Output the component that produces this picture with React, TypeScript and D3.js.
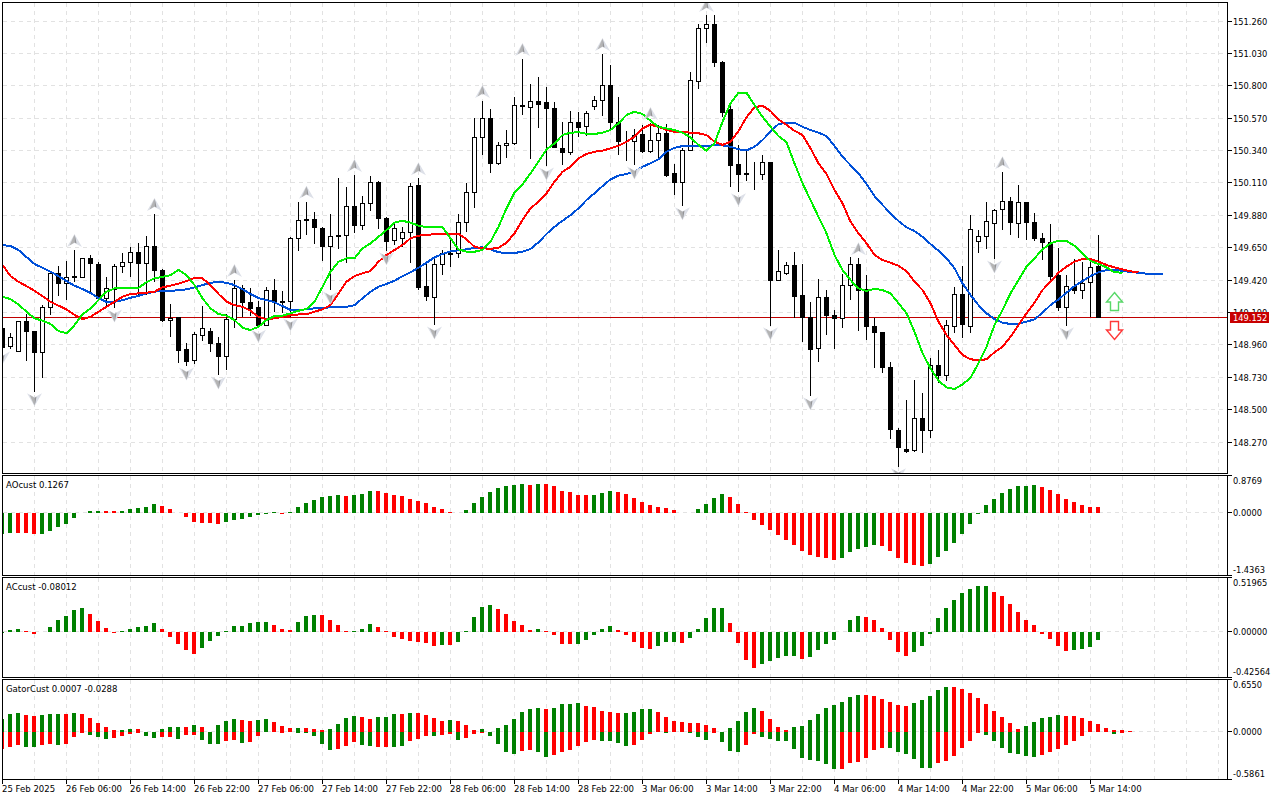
import * as d3 from "d3";
import React from "react";

// hourly USDJPY style chart
const opens = [149.08,148.947,148.912,149.125,149.059,148.905,149.227,149.469,149.395,149.44,
149.437,149.575,149.532,149.288,149.357,149.515,149.544,149.618,149.535,149.662,
149.492,149.135,149.153,148.929,148.848,149.026,149.057,148.967,148.876,149.142,
149.362,149.263,149.227,149.099,149.348,149.272,149.267,149.717,149.852,149.852,
149.788,149.657,149.736,149.738,149.944,149.809,149.966,150.117,149.861,149.7,
149.717,149.76,150.095,149.376,149.298,149.532,149.611,149.611,149.831,150.044,
150.434,150.569,150.247,150.375,150.392,150.661,150.644,150.69,150.685,150.64,
150.356,150.325,150.541,150.509,150.654,150.697,150.803,150.538,150.408,150.403,
150.451,150.332,150.413,150.463,150.174,150.112,150.339,150.829,151.208,151.236,
150.969,150.633,150.242,150.179,150.179,150.171,150.257,149.416,149.466,149.525,
149.314,149.156,148.936,149.298,149.172,149.149,149.383,149.532,149.355,149.092,
149.052,148.801,148.356,148.219,148.209,148.439,148.351,148.817,148.741,149.092,
149.319,149.092,149.696,149.728,149.824,149.92,149.98,149.824,149.973,149.831,
149.717,149.686,149.456,149.227,149.373,149.345,149.402,149.518];
const highs = [149.094,149.045,149.13,149.18,149.062,149.243,149.48,149.52,149.556,149.634,
149.577,149.598,149.549,149.442,149.535,149.613,149.655,149.686,149.733,149.89,
149.499,149.251,149.16,148.974,149.054,149.236,149.078,149.018,149.177,149.421,
149.383,149.362,149.272,149.373,149.428,149.345,149.728,149.973,149.977,149.902,
149.799,149.887,150.143,150.083,150.166,150.017,150.159,150.122,149.866,149.826,
149.799,150.108,150.143,149.54,149.586,149.634,149.705,149.887,150.108,150.569,
150.692,150.635,150.399,150.486,150.718,150.99,150.81,150.86,150.789,150.683,
150.545,150.621,150.616,150.621,150.727,151.026,150.947,150.718,150.479,150.491,
150.521,150.536,150.521,150.529,150.245,150.356,150.896,151.239,151.302,151.302,
150.976,150.668,150.379,150.339,150.261,150.309,150.26,149.634,149.549,149.622,
149.532,149.267,149.426,149.35,149.208,149.464,149.584,149.575,149.456,149.149,
149.055,148.839,148.368,148.569,148.711,148.617,148.865,148.924,149.137,149.369,
149.52,149.882,149.776,149.977,149.923,150.186,150.012,150.095,149.976,149.895,
149.753,149.816,149.646,149.456,149.568,149.547,149.563,149.74];
const lows = [148.924,148.931,148.91,148.848,148.628,148.725,149.172,149.307,149.279,149.409,
149.435,149.329,149.279,149.229,149.222,149.473,149.444,149.302,149.314,149.409,
149.125,149.018,148.834,148.81,148.825,148.99,148.912,148.746,148.782,149.08,
149.16,149.168,149.078,149.094,149.196,149.185,149.16,149.629,149.74,149.677,
149.558,149.35,149.641,149.54,149.753,149.776,149.913,149.785,149.629,149.669,
149.653,149.544,149.35,149.274,149.101,149.456,149.511,149.579,149.76,149.934,
150.309,150.183,150.237,150.285,150.379,150.592,150.28,150.502,150.23,150.36,
150.237,150.309,150.438,150.443,150.628,150.585,150.491,150.309,150.268,150.237,
150.325,150.325,150.273,150.154,150.024,149.949,150.339,150.777,151.106,150.935,
150.58,150.083,150.048,150.126,150.06,150.131,149.097,149.414,149.456,149.149,
148.983,148.6,148.841,149.03,148.931,149.078,149.279,149.061,148.995,148.798,
148.763,148.294,148.095,148.191,148.202,148.195,148.301,148.692,148.704,149.045,
149.011,149.045,149.615,149.641,149.57,149.776,149.74,149.717,149.705,149.698,
149.563,149.421,149.201,149.097,149.322,149.284,149.156,149.149];
const closes = [148.945,149.011,149.125,149.054,148.905,149.227,149.469,149.395,149.44,149.445,
149.575,149.537,149.291,149.362,149.52,149.547,149.618,149.537,149.66,149.487,
149.132,149.149,148.924,148.841,149.035,149.078,148.969,148.876,149.142,149.362,
149.26,149.22,149.101,149.345,149.26,149.26,149.717,149.845,149.842,149.792,
149.657,149.728,149.728,149.944,149.807,149.966,150.115,149.856,149.693,149.785,
149.76,150.088,149.366,149.302,149.532,149.611,149.601,149.831,150.044,150.434,
150.569,150.247,150.375,150.392,150.661,150.651,150.69,150.666,150.637,150.36,
150.325,150.541,150.502,150.605,150.697,150.803,150.538,150.403,150.403,150.448,
150.337,150.413,150.463,150.166,150.112,150.339,150.839,151.208,151.236,150.964,
150.609,150.233,150.169,150.171,150.175,150.254,149.416,149.48,149.525,149.302,
149.156,148.931,149.298,149.168,149.149,149.383,149.532,149.345,149.089,149.05,
148.798,148.363,148.23,148.207,148.439,148.351,148.817,148.746,149.097,149.319,
149.104,149.781,149.731,149.838,149.916,149.98,149.828,149.973,149.828,149.717,
149.686,149.449,149.224,149.373,149.345,149.398,149.511,149.152];

const jaw = [149.67,149.662,149.634,149.584,149.535,149.508,149.48,149.449,149.414,149.381,
149.357,149.329,149.293,149.265,149.267,149.277,149.295,149.309,149.326,149.338,
149.345,149.345,149.348,149.355,149.369,149.385,149.402,149.407,149.402,149.385,
149.355,149.322,149.293,149.279,149.263,149.236,149.208,149.208,149.213,149.22,
149.224,149.227,149.229,149.231,149.243,149.291,149.338,149.373,149.393,149.416,
149.449,149.476,149.508,149.544,149.582,149.606,149.625,149.632,149.639,149.65,
149.653,149.639,149.618,149.613,149.613,149.622,149.641,149.689,149.748,149.799,
149.842,149.882,149.93,149.989,150.037,150.088,150.136,150.162,150.174,150.19,
150.225,150.25,150.278,150.332,150.36,150.372,150.375,150.375,150.375,150.377,
150.377,150.367,150.349,150.342,150.367,150.415,150.474,150.529,150.538,150.538,
150.509,150.486,150.467,150.443,150.372,150.296,150.237,150.179,150.103,150.017,
149.954,149.895,149.84,149.795,149.769,149.728,149.677,149.629,149.575,149.504,
149.398,149.315,149.243,149.185,149.144,149.118,149.109,149.111,149.125,149.142,
149.189,149.243,149.284,149.331,149.378,149.414,149.449,149.476,149.492,149.492,
149.487,149.478,149.473,149.466,149.464,149.464];
const teeth = [149.528,149.449,149.409,149.378,149.345,149.307,149.267,149.239,149.213,149.173,
149.144,149.16,149.196,149.231,149.267,149.302,149.322,149.326,149.331,149.338,
149.369,149.381,149.395,149.414,149.437,149.433,149.385,149.322,149.267,149.243,
149.231,149.203,149.16,149.142,149.149,149.16,149.17,149.177,149.177,149.196,
149.213,149.243,149.326,149.409,149.449,149.469,149.485,149.551,149.599,149.634,
149.67,149.717,149.736,149.743,149.745,149.745,149.745,149.75,149.71,149.657,
149.646,149.643,149.65,149.686,149.753,149.847,149.93,149.977,150.037,150.119,
150.19,150.225,150.285,150.316,150.332,150.339,150.356,150.375,150.403,150.438,
150.498,150.524,150.509,150.486,150.474,150.474,150.467,150.463,150.451,150.403,
150.38,150.403,150.479,150.576,150.647,150.659,150.621,150.562,150.522,150.481,
150.451,150.356,150.25,150.174,150.06,149.966,149.835,149.753,149.682,149.599,
149.563,149.544,149.522,149.485,149.409,149.35,149.256,149.125,149.031,148.96,
148.889,148.858,148.853,148.858,148.908,148.947,149.018,149.101,149.185,149.26,
149.35,149.409,149.473,149.516,149.551,149.57,149.57,149.551,149.528,149.511,
149.497,149.483,149.476];
const lips = [149.302,149.286,149.248,149.196,149.149,149.132,149.109,149.059,149.043,149.101,
149.177,149.22,149.279,149.338,149.362,149.364,149.366,149.366,149.405,149.433,
149.444,149.456,149.494,149.456,149.385,149.291,149.22,149.18,149.168,149.137,
149.082,149.066,149.089,149.137,149.165,149.168,149.185,149.203,149.215,149.267,
149.373,149.48,149.551,149.575,149.575,149.646,149.681,149.728,149.776,149.828,
149.842,149.828,149.807,149.797,149.797,149.797,149.717,149.639,149.622,149.622,
149.634,149.693,149.799,149.93,150.044,150.1,150.179,150.261,150.349,150.392,
150.451,150.467,150.47,150.46,150.458,150.467,150.486,150.534,150.593,150.616,
150.6,150.552,150.509,150.498,150.486,150.467,150.434,150.38,150.339,150.392,
150.545,150.675,150.751,150.751,150.664,150.58,150.509,150.443,150.399,150.25,
150.108,149.989,149.87,149.753,149.599,149.492,149.421,149.362,149.343,149.359,
149.35,149.326,149.256,149.185,149.054,148.901,148.794,148.706,148.659,148.647,
148.68,148.727,148.83,148.947,149.101,149.208,149.326,149.421,149.516,149.575,
149.639,149.681,149.7,149.698,149.665,149.611,149.556,149.535,149.511,149.476,
149.473];

const aoValues = [-.486,-.463,-.463,-.463,-.486,-.486,-.416,-.324,-.254,-.116,
.008,.046,.046,.046,.046,.046,.093,.116,.139,.208,
.162,.093,.008,-.093,-.208,-.231,-.231,-.254,-.208,-.162,
-.139,-.093,-.046,-.015,.023,-.015,.023,.139,.231,.301,
.37,.393,.416,.393,.416,.439,.509,.509,.463,.416,
.393,.324,.278,.231,.139,.093,.023,.008,.069,.231,
.37,.486,.578,.625,.648,.671,.648,.671,.671,.625,
.509,.486,.416,.416,.416,.463,.509,.486,.439,.347,
.254,.185,.139,.116,.069,.008,.008,.093,.208,.347,
.439,.37,.208,.023,-.162,-.278,-.393,-.509,-.625,-.74,
-.879,-.971,-1.018,-1.041,-1.087,-1.041,-.902,-.833,-.786,-.74,
-.763,-.879,-1.041,-1.157,-1.203,-1.226,-1.18,-1.018,-.879,-.694,
-.486,-.254,-.031,.185,.324,.463,.555,.625,.625,.648,
.601,.532,.439,.324,.254,.185,.139,.1267];
const aoTrend = "GGRRRGGGGG" + "GGGRRGGGGG" + "RRRRRRRRGG" + "GGGGGRGGGG" + "GGGRGGGRRR" + "RRRRRRRRGG" + "GGGGGGRGRR" + "RRRRGGGRRR" + "RRRRRRGGGG" + "GRRRRRRRRR" + "RRRRRGGGGG" + "RRRRRRGGGG" + "GGGGGGGGGG" + "RRRRRRRR";

const acValues = [-.013,.019,.028,.009,-.019,-.003,.047,.113,.151,.208,
.227,.17,.104,.038,-.009,.009,.028,.047,.057,.085,
.028,-.047,-.113,-.17,-.208,-.151,-.085,-.038,.009,.057,
.057,.085,.095,.095,.066,.028,.019,.095,.151,.161,
.161,.113,.066,.009,.009,.028,.076,.047,.009,-.047,
-.066,-.085,-.095,-.104,-.132,-.123,-.123,-.095,.009,.142,
.236,.255,.217,.17,.104,.066,.019,.028,.009,-.028,
-.113,-.113,-.113,-.076,-.028,.028,.057,.019,-.028,-.095,
-.151,-.161,-.132,-.095,-.095,-.104,-.057,.028,.132,.227,
.227,.085,-.104,-.265,-.34,-.302,-.274,-.246,-.227,-.227,
-.255,-.236,-.17,-.113,-.076,.003,.113,.151,.142,.113,
.038,-.076,-.189,-.227,-.189,-.132,-.019,.132,.227,.302,
.369,.406,.435,.435,.378,.34,.265,.189,.113,.066,
-.019,-.066,-.132,-.18,-.17,-.161,-.142,-.08];
const acTrend = "GGGRRGGGGG" + "GRRRRGGGGG" + "RRRRRGGGGG" + "GGGGRRRGGG" + "RRRRGGGRRR" + "RRRRRGRGGG" + "GGRRRRRGRR" + "RRGGGGGRRR" + "RRGGGRGGGG" + "GRRRRGGGGG" + "RGGGGGGGRR" + "RRRRGGGGGG" + "GGGGRRRRRR" + "RRRRGGGG";

const gatorUp = [.153,.215,.228,.203,.19,.203,.215,.215,.215,.228,
.215,.165,.103,.054,.017,.017,.029,.029,0,0,
.029,.054,.054,.054,.079,.054,0,.079,.128,.153,
.141,.128,.141,.153,.116,.066,.041,.041,.041,.029,
.017,.029,.091,.165,.19,.178,.153,.178,.178,.215,
.215,.228,.228,.203,.165,.128,.141,.128,.079,.017,
.029,0,.041,.079,.153,.24,.277,.29,.277,.29,
.339,.339,.352,.314,.302,.252,.24,.228,.228,.24,
.277,.277,.24,.178,.128,.116,.103,.103,.079,.041,
0,.041,.128,.24,.29,.252,.153,.054,.017,.054,
.066,.141,.215,.29,.327,.364,.426,.451,.451,.439,
.401,.364,.327,.314,.352,.389,.439,.513,.55,.55,
.525,.476,.414,.339,.252,.178,.103,.029,.066,.116,
.165,.178,.203,.19,.19,.165,.128,.091,.041,.017,
.017,.004,.001];
const gatorDown = [-.219,-.186,-.17,-.186,-.194,-.17,-.157,-.17,-.157,-.062,
-.021,-.046,-.07,-.095,-.083,-.058,-.033,-.021,-.058,-.083,
-.07,-.07,-.095,-.046,-.046,-.108,-.157,-.157,-.12,-.108,
-.145,-.132,-.058,-.008,-.001,-.012,-.008,-.021,-.021,-.058,
-.157,-.232,-.219,-.182,-.132,-.17,-.182,-.194,-.194,-.194,
-.182,-.12,-.095,-.058,-.058,-.046,-.033,-.108,-.083,-.033,
-.012,-.058,-.157,-.256,-.281,-.244,-.232,-.256,-.319,-.294,
-.256,-.232,-.182,-.132,-.108,-.12,-.12,-.145,-.182,-.17,
-.108,-.033,-.004,-.012,-.004,-.008,-.021,-.07,-.108,-.012,
-.132,-.244,-.256,-.17,-.033,-.07,-.095,-.12,-.12,-.219,
-.331,-.356,-.368,-.405,-.467,-.467,-.393,-.381,-.331,-.232,
-.207,-.207,-.256,-.281,-.343,-.455,-.455,-.393,-.368,-.306,
-.207,-.12,-.021,-.046,-.12,-.207,-.269,-.281,-.306,-.319,
-.294,-.256,-.219,-.17,-.12,-.058,-.008,-.008,0,-.033,
-.021,0,0];
const gatorUpTrend = "GGGRRGGGRG" + "RRRRRGGRGG" + "GGGRGRGGGG" + "RRGGRRRGRR" + "RGGGGRRGGG" + "RGRRRRGRRR" + "GGGGGGGGRG" + "GGGRRRRRGG" + "GGRRRRRRRR" + "GGGGGRRRRG" + "GGGGGGGGRR" + "RRRRGGGGGR" + "RRRRRRRRGG" + "GGGRRRRRRRRRR";
const gatorDownTrend = "RRRGGRRGRR" + "RGGGRRRRGG" + "RRGRRGGGRR" + "GRRRRRRGGG" + "GGRRRGGRRG" + "GRRRGRRGRR" + "RGGGGRRGGR" + "RRRRRGGGGR" + "RRRGRGGGGR" + "GGGRRGGGGG" + "GGGGGRRRRR" + "RGGGGGGRRR" + "RRRGGGGGGG" + "RRRRRRRGRGRRR";

// bars carrying a fractal
const fractalsUp = [9, 19, 29, 38, 44, 52, 60, 65, 75, 81, 88, 107, 125];
const fractalsDown = [0, 4, 14, 23, 27, 32, 36, 41, 48, 54, 68, 79, 85, 92, 96, 101, 112, 124, 133];

const priceTicks = [151.26, 151.03, 150.8, 150.57, 150.34, 150.11, 149.88, 149.65, 149.42, 149.19, 148.96, 148.73, 148.5, 148.27];
const timeLabels = ["25 Feb 2025", "26 Feb 06:00", "26 Feb 14:00", "26 Feb 22:00", "27 Feb 06:00", "27 Feb 14:00", "27 Feb 22:00", "28 Feb 06:00", "28 Feb 14:00", "28 Feb 22:00", "3 Mar 06:00", "3 Mar 14:00", "3 Mar 22:00", "4 Mar 06:00", "4 Mar 14:00", "4 Mar 22:00", "5 Mar 06:00", "5 Mar 14:00"];
const lastPrice = 149.152;

const left = 2.5;
const right = 1227.5;
const barStep = 8;
const gridColor = "#e2e2e2";
const upColor = "#008000";
const downColor = "#ff0000";
const font = "'DejaVu Sans Condensed', 'DejaVu Sans', sans-serif";

const x = d3.scaleLinear().domain([0, 1]).range([left, left + barStep]);
const py = d3.scaleLinear().domain([151.395, 148.051]).range([2, 473]);
const crisp = (v: number) => Math.round(v - 0.5) + 0.5;

const panels = [
  { name: "AOcust 0.1267", top: 475, bottom: 575, max: 0.8769, min: -1.4363, maxL: "0.8769", zeroL: "0.0000", minL: "-1.4363" },
  { name: "ACcust -0.08012", top: 577, bottom: 677, max: 0.51965, min: -0.42564, maxL: "0.51965", zeroL: "0.00000", minL: "-0.42564" },
  { name: "GatorCust 0.0007 -0.0288", top: 679, bottom: 779, max: 0.655, min: -0.5861, maxL: "0.6550", zeroL: "0.0000", minL: "-0.5861" },
];
const seriesPerPanel: [number[], string][][] = [
  [[aoValues, aoTrend]],
  [[acValues, acTrend]],
  [[gatorUp, gatorUpTrend], [gatorDown, gatorDownTrend]],
];

const Label = ({ x: tx, y, children, fill = "#000", size = 9.5 }: any) => (
  <text x={tx} y={y} fill={fill} dominantBaseline="central" fontFamily={font} fontSize={size}>
    {children}
  </text>
);

const Fractal = ({ cx, cy, dir }: { cx: number; cy: number; dir: number }) => (
  <g transform={`translate(${cx},${cy}) scale(1,${dir})`}>
    <polygon points="0,-7 7.5,6 0,2 -7.5,6" fill="#dde0e8" />
    <polygon points="0,-6.5 -2,-2 -5,4.5 0,1.5" fill="#b4b4b4" />
    <polygon points="0,-6 0,1.5 2,2.5 1,-3" fill="#949496" />
  </g>
);

export default function App() {
  const gridXs = d3.range(1, 39).map((k) => x(k * 4));
  const line = d3.line<number>().x((_, i) => x(i)).y((d) => py(d));

  return (
    <svg width={1280} height={800} style={{ position: "absolute", left: 0, top: 0, background: "#fff" }}>
      <defs>
        <clipPath id="main-clip">
          <rect x={3} y={3} width={1224} height={470} />
        </clipPath>
      </defs>

      {/* grid */}
      <g stroke={gridColor} strokeDasharray="4 4" shapeRendering="crispEdges">
        {gridXs.map((gx) =>
          [[3, 473], [476, 575], [578, 677], [680, 779]].map(([a, b]) => (
            <line key={`${gx}-${a}`} x1={gx} x2={gx} y1={a} y2={b} />
          )),
        )}
        {priceTicks.map((p) => (
          <line key={p} x1={3} x2={right} y1={crisp(py(p))} y2={crisp(py(p))} />
        ))}
      </g>

      {/* candles */}
      <g clipPath="url(#main-clip)" shapeRendering="crispEdges">
        <line x1={3} x2={right} y1={crisp(py(lastPrice))} y2={crisp(py(lastPrice))} stroke="#c00000" />
        {opens.map((o, i) => {
          const c = closes[i];
          const cx = x(i);
          const top = crisp(py(Math.max(o, c)));
          const bottom = crisp(py(Math.min(o, c)));
          return (
            <g key={i}>
              <line x1={cx} x2={cx} y1={Math.round(py(highs[i]))} y2={Math.round(py(lows[i]))} stroke="#000" />
              <rect x={cx - 2} y={top} width={4} height={bottom - top} stroke="#000" fill={c >= o ? "#fff" : "#000"} />
            </g>
          );
        })}
      </g>

      {/* alligator lines */}
      <g clipPath="url(#main-clip)" fill="none" strokeWidth={2}>
        <path d={line(jaw) ?? ""} stroke="#0050d8" shapeRendering="crispEdges" />
        <path d={line(teeth) ?? ""} stroke="#ff0000" shapeRendering="crispEdges" />
        <path d={line(lips) ?? ""} stroke="#00f000" shapeRendering="crispEdges" />
        {fractalsUp.map((i) => (
          <Fractal key={`u${i}`} cx={x(i)} cy={py(highs[i]) - 9} dir={1} />
        ))}
        {fractalsDown.map((i) => (
          <Fractal key={`d${i}`} cx={x(i)} cy={py(lows[i]) + 7.5} dir={-1} />
        ))}
      </g>

      {/* signal arrows */}
      <g fill="#fff" strokeWidth={1.4} strokeLinejoin="miter">
        <polygon points="1114.5,292.5 1122.5,302 1118.5,302 1118.5,310.5 1110.5,310.5 1110.5,302 1106.5,302" stroke="#58d868" />
        <polygon points="1114.5,339.5 1122.5,330 1118.5,330 1118.5,321.5 1110.5,321.5 1110.5,330 1106.5,330" stroke="#ff3838" />
      </g>

      {/* indicator windows */}
      {panels.map((p, k) => {
        const y = d3.scaleLinear().domain([p.max, p.min]).range([p.top, p.bottom]);
        const zero = crisp(y(0));
        return (
          <g key={p.name}>
            <line x1={3} x2={right} y1={zero} y2={zero} stroke={gridColor} strokeDasharray="4 4" shapeRendering="crispEdges" />
            <g shapeRendering="crispEdges">
              {seriesPerPanel[k].map(([values, trend], s) =>
                values.map((v, i) => {
                  const a = Math.round(y(v));
                  const b = Math.round(y(0));
                  if (a === b) return null;
                  const bx = Math.max(x(i) - 2.5, 3);
                  return (
                    <rect
                      key={`${s}-${i}`}
                      x={bx}
                      y={Math.min(a, b)}
                      width={x(i) + 1.5 - bx}
                      height={Math.abs(a - b)}
                      fill={trend[i] === "G" ? upColor : downColor}
                    />
                  );
                }),
              )}
            </g>
            <Label x={6} y={p.top + 9}>{p.name}</Label>
            <Label x={1233} y={p.top + 5} size={9.2}>{p.maxL}</Label>
            <Label x={1233} y={y(0) - 0.5} size={9.2}>{p.zeroL}</Label>
            <Label x={1233} y={p.bottom - 5.5} size={9.2}>{p.minL}</Label>
            <g stroke="#000" shapeRendering="crispEdges">
              {[p.top + 0.5, zero, p.bottom + 0.5].map((t) => (
                <line key={t} x1={right} x2={right + 4} y1={t} y2={t} />
              ))}
            </g>
          </g>
        );
      })}

      {/* frames */}
      <g fill="none" stroke="#000" shapeRendering="crispEdges">
        <rect x={left} y={2.5} width={right - left} height={471} />
        {panels.map((p) => (
          <rect key={p.top} x={left} y={p.top + 0.5} width={right - left} height={p.bottom - p.top} />
        ))}
      </g>

      {/* price axis */}
      {priceTicks.map((p) => (
        <g key={p}>
          <line x1={right} x2={right + 4} y1={crisp(py(p))} y2={crisp(py(p))} stroke="#000" shapeRendering="crispEdges" />
          <Label x={1233} y={py(p)} size={9.2}>{p.toFixed(3)}</Label>
        </g>
      ))}
      <rect x={1230} y={312} width={39} height={11} fill="#c80000" />
      <Label x={1233} y={py(lastPrice)} fill="#fff" size={9.2}>{lastPrice.toFixed(3)}</Label>

      {/* time axis */}
      {timeLabels.map((t, i) => (
        <g key={t}>
          <line x1={x(i * 8)} x2={x(i * 8)} y1={780} y2={784} stroke="#000" shapeRendering="crispEdges" />
          <Label x={x(i * 8) - 0.5} y={788.5}>{t}</Label>
        </g>
      ))}
    </svg>
  );
}
